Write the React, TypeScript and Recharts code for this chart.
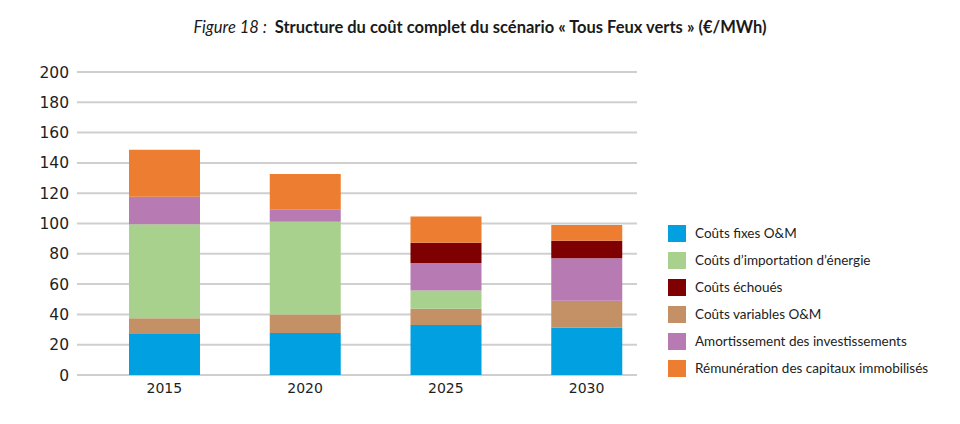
import React from 'react';
import { BarChart, Bar, XAxis, YAxis, CartesianGrid } from 'recharts';

const years = ['2015', '2020', '2025', '2030'];
const fixesOM = [27.1, 27.7, 33.0, 31.4];
const variablesOM = [10.4, 12.3, 10.8, 17.6];
const importEnergie = [62.0, 61.2, 12.0, 0];
const amortissement = [18.1, 7.9, 18.1, 28.0];
const echoues = [0, 0, 13.4, 11.6];
const remuneration = [31.0, 23.6, 17.4, 10.4];
const yTicks = [0, 20, 40, 60, 80, 100, 120, 140, 160, 180, 200];

// stacking order, bottom to top
const series = [
  { key: 'fixes', name: 'Coûts fixes O&M', values: fixesOM, color: '#00a0e1' },
  { key: 'variables', name: 'Coûts variables O&M', values: variablesOM, color: '#c49166' },
  { key: 'import', name: 'Coûts d’importation d’énergie', values: importEnergie, color: '#a9d18e' },
  { key: 'amort', name: 'Amortissement des investissements', values: amortissement, color: '#b87ab3' },
  { key: 'echoues', name: 'Coûts échoués', values: echoues, color: '#7f0000' },
  { key: 'remun', name: 'Rémunération des capitaux immobilisés', values: remuneration, color: '#ed7d31' },
];

const legendOrder = ['fixes', 'import', 'echoues', 'variables', 'amort', 'remun'];

const data = years.map((y, i) => {
  const row: Record<string, string | number> = { year: y };
  series.forEach(s => { row[s.key] = s.values[i]; });
  return row;
});

const GridLine = (props: any) => (
  <line x1={props.x1} y1={props.y1} x2={props.x2 - 20} y2={props.y2} stroke="#cfcfcf" strokeWidth={2} />
);

export default function App() {
  return (
    <div style={{ position: 'absolute', left: 0, top: 0, width: 960, height: 424, background: '#fff', fontFamily: 'Lato, sans-serif' }}>
      <div style={{ position: 'absolute', top: 17, left: 0, width: 960, textAlign: 'center', fontSize: 16.5, color: '#1a1a1a' }}>
        <span style={{ fontStyle: 'italic', marginRight: 8 }}>Figure 18 :</span>
        <span style={{ fontWeight: 'bold' }}>Structure du coût complet du scénario « Tous Feux verts » (€/MWh)</span>
      </div>
      <BarChart width={960} height={424} data={data} margin={{ top: 72, right: 303, left: 0, bottom: 19 }}>
        <CartesianGrid vertical={false} horizontal={GridLine} />
        <XAxis
          dataKey="year"
          axisLine={false}
          tickLine={false}
          height={30}
          padding={{ left: 17, right: 0 }}
          tick={{ fontSize: 14, fill: '#1e1e1e', fontFamily: 'DejaVu Sans' }}
        />
        <YAxis
          domain={[0, 200]}
          ticks={yTicks}
          width={77}
          axisLine={false}
          tickLine={false}
          tick={{ fontSize: 15.5, fill: '#1e1e1e', fontFamily: 'DejaVu Sans' }}
        />
        {series.map(s => (
          <Bar key={s.key} dataKey={s.key} stackId="a" fill={s.color} barSize={71} isAnimationActive={false} />
        ))}
      </BarChart>
      <div style={{ position: 'absolute', left: 668, top: 225 }}>
        {legendOrder.map(k => {
          const s = series.find(x => x.key === k)!;
          return (
            <div key={k} style={{ display: 'flex', alignItems: 'center', height: 27 }}>
              <span style={{ width: 18, height: 17, background: s.color, display: 'inline-block', marginRight: 9, alignSelf: 'flex-start' }} />
              <span style={{ fontSize: 13.5, color: '#222', lineHeight: '17px', alignSelf: 'flex-start' }}>{s.name}</span>
            </div>
          );
        })}
      </div>
    </div>
  );
}
